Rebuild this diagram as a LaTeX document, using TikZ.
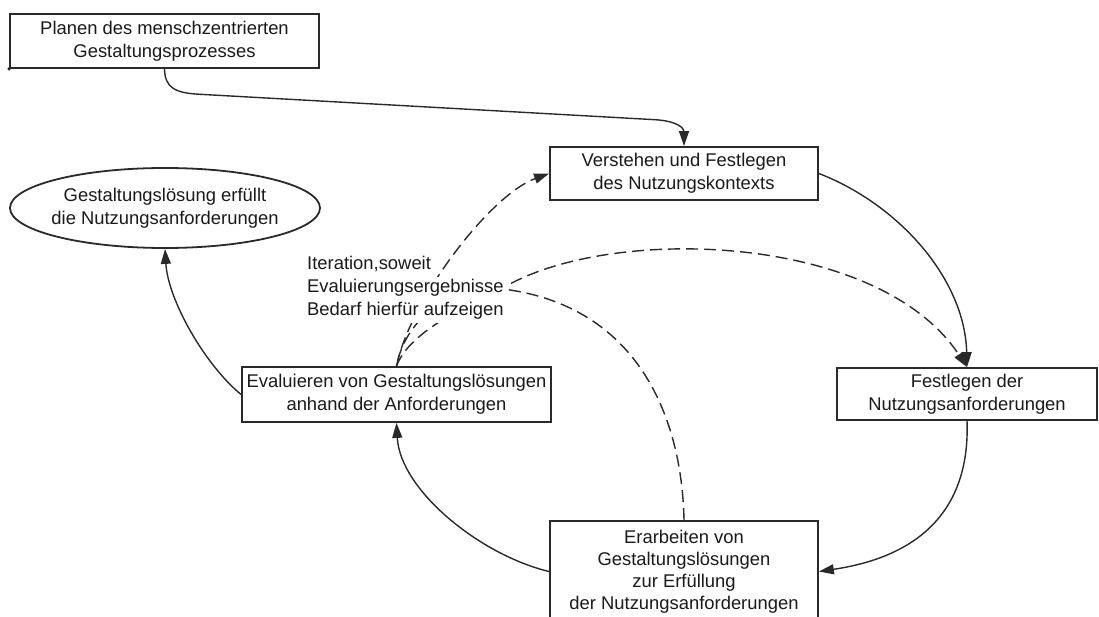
\documentclass[tikz,border=0pt]{standalone}
\usepackage{fontspec}
\setmainfont{Liberation Sans}
\usetikzlibrary{arrows.meta,shapes.geometric}
\definecolor{ink}{HTML}{1A1A1A}
\definecolor{linec}{HTML}{2A2A2A}
\newcommand\diagfont{\fontsize{18.4}{23}\selectfont}

\begin{document}
\begin{tikzpicture}[x=1pt,y=-1pt,
  box/.style={draw=linec, line width=1.8pt, fill=white, text=ink, font=\diagfont, align=center, inner sep=0pt},
  goal/.style={box, ellipse, inner xsep=-25pt},
  flow/.style={draw=linec, line width=1.4pt, -{Triangle[length=15pt,width=10pt]}},
  iter/.style={flow, dash pattern=on 12pt off 6pt},
  iterplain/.style={draw=linec, line width=1.4pt, dash pattern=on 12pt off 6pt},
  note/.style={fill=white, text=ink, font=\diagfont, anchor=base west, inner xsep=2pt, inner ysep=3pt, text height=13pt, text depth=4pt}]

\useasboundingbox (0,0) rectangle (1099,617);
\clip (0,0) rectangle (1099,617);

% process steps
\node[box, minimum width=309pt, minimum height=54pt] (plan) at (164.5,41)
  {Planen des menschzentrierten\\Gestaltungsprozesses};
\node[box, minimum width=268pt, minimum height=53pt] (kontext) at (684,173.5)
  {Verstehen und Festlegen\\des Nutzungskontexts};
\node[box, minimum width=260pt, minimum height=52pt] (anf) at (967,394)
  {Festlegen der\\Nutzungsanforderungen};
\node[box, minimum width=268pt, minimum height=101pt, font=\fontsize{18.4}{22}\selectfont] (loes) at (684,571.5)
  {Erarbeiten von\\Gestaltungslösungen\\zur Erfüllung\\der Nutzungsanforderungen};
\node[box, minimum width=309pt, minimum height=55pt] (eval) at (396.5,394.5)
  {Evaluieren von Gestaltungslösungen\\anhand der Anforderungen};
\node[goal, minimum width=310pt, minimum height=80pt] (ziel) at (165,208)
  {Gestaltungslösung erfüllt\\die Nutzungsanforderungen};

\fill[linec] (plan.south west) circle (1.8pt);

% main cycle
\draw[flow] (plan.south) .. controls (165,88) and (175,93) .. (200,94.3)
  -- (655,119.7) .. controls (677,121) and (684,128) .. (kontext.north);
\draw[flow] (kontext.east) .. controls (900,205) and (965,280) .. (anf.north);
\draw[flow] (anf.south) .. controls (970,500) and (930,555) .. (loes.east);
\draw[flow] (loes.west) .. controls (480,555) and (400,490) .. (eval.south);
\draw[flow] (eval.west) .. controls (205,365) and (168,300) .. (ziel.south);

% iterations
\draw[iter] (eval.north) .. controls (410,300) and (490,195) .. (kontext.west);
\draw[iter] (eval.north) .. controls (410,330) and (470,305) .. (510,284)
  .. controls (620,225) and (880,235) .. (anf.north);
\draw[iterplain] (loes.north) .. controls (682,420) and (640,310) .. (510,290)
  .. controls (450,282) and (405,320) .. (eval.north);

% note on the iterations
\node[note] (it1) at (305,270) {Iteration,soweit};
\node[note] (it2) at (305,293) {Evaluierungsergebnisse};
\node[note] (it3) at (305,316) {Bedarf hierfür aufzeigen};
\end{tikzpicture}
\end{document}
